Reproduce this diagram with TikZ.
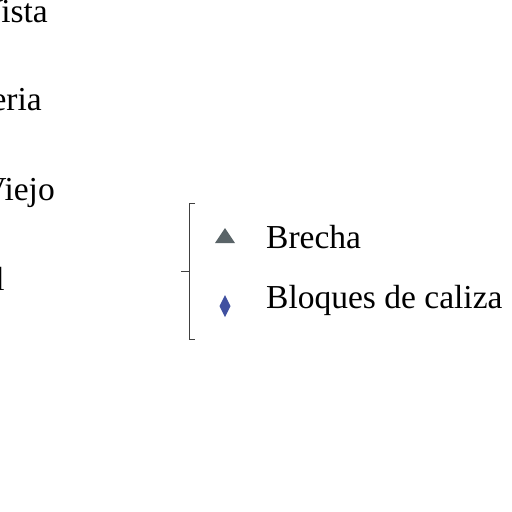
\documentclass[tikz,border=0pt]{standalone}
\usepackage{fontspec}
\setmainfont{Liberation Serif}
\usetikzlibrary{calc}
\begin{document}
\begin{tikzpicture}[x=1pt,y=-1pt,
  lbl/.style={font=\fontsize{33.5}{36}\selectfont, inner sep=0pt},
  brk/.style={draw=black!75, line width=1pt}]
\useasboundingbox (0,0) rectangle (512,512);
\clip (0,0) rectangle (512,512);
\fill[white] (0,0) rectangle (512,512);
% cropped left labels
\node[lbl, anchor=base east] (t1) at (48,22) {Vista};
\node[lbl, anchor=base east] (t2) at (42,110) {eria};
\node[lbl, anchor=base east] (t3) at (55,200) {Viejo};
\node[lbl, anchor=base east] (t4) at (5,290) {l};
% bracket
\coordinate (bt) at (189,203);
\coordinate (bb) at (189,339);
\coordinate (bm) at (189,271);
\draw[brk] ($(bt)+(6,0)$) -- (bt) -- (bb) -- ($(bb)+(6,0)$);
\draw[brk] (bm) -- ++(-8,0);
% legend symbols
\fill[fill={rgb,255:red,90;green,100;blue,104}] (215,243) -- (235,243) -- (225,228) -- cycle;
\fill[fill={rgb,255:red,64;green,80;blue,160}] (225,295) -- (230.5,306) -- (225,317) -- (219.5,306) -- cycle;
% legend text
\node[lbl, anchor=base west] (l1) at (266,248) {Brecha};
\node[lbl, anchor=base west] (l2) at (266,308) {Bloques de caliza};
\end{tikzpicture}
\end{document}
